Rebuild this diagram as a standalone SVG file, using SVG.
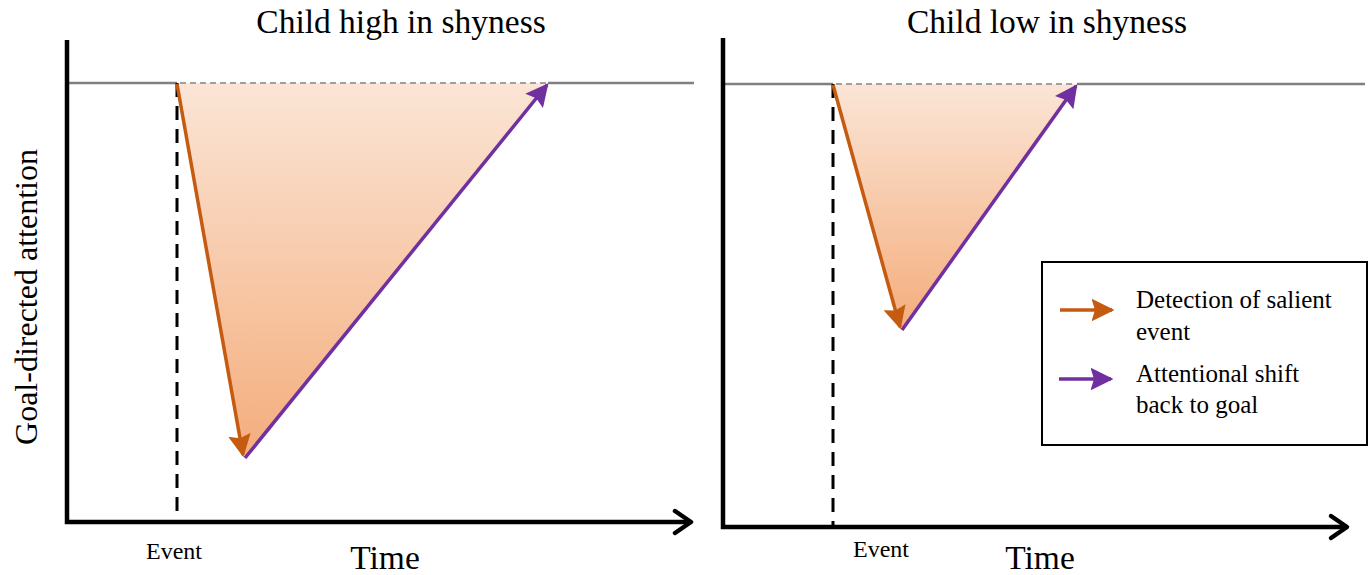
<svg xmlns="http://www.w3.org/2000/svg" width="1369" height="575" viewBox="0 0 1369 575">
<style>
.axis{stroke:#000;stroke-width:4.5;fill:none}
.base{stroke:#808080;stroke-width:2.5}
.gdash{stroke:#a0a0a0;stroke-width:2;stroke-dasharray:6,4}
.bdash{stroke:#000;stroke-width:3;stroke-dasharray:14,9}
.det{stroke:#c55a11;stroke-width:3.5;fill:none}
.att{stroke:#7030a0;stroke-width:3.5;fill:none}
text{font-family:"Liberation Serif","Times New Roman",serif;fill:#000}
.title{font-size:33.5px}
.small{font-size:24px}
.legend{font-size:25px}
</style>
<defs>
<linearGradient id="fade" x1="0" y1="0" x2="0" y2="1">
<stop offset="0" stop-color="#fbe5d6"/>
<stop offset="1" stop-color="#f4ad7c"/>
</linearGradient>
<marker id="hDet" viewBox="0 0 10 10" refX="9" refY="5" markerWidth="6.5" markerHeight="6.5" orient="auto" markerUnits="strokeWidth">
<path d="M0,0 L10,5 L0,10 L1.5,5 z" fill="#c55a11"/>
</marker>
<marker id="hAtt" viewBox="0 0 10 10" refX="9" refY="5" markerWidth="6.5" markerHeight="6.5" orient="auto" markerUnits="strokeWidth">
<path d="M0,0 L10,5 L0,10 L1.5,5 z" fill="#7030a0"/>
</marker>
</defs>

<g id="title-left"><text class="title" x="401" y="33" text-anchor="middle">Child high in shyness</text></g>
<g id="title-right"><text class="title" x="1047" y="33" text-anchor="middle">Child low in shyness</text></g>
<g id="ylabel"><text class="title" transform="translate(37,297) rotate(-90)" text-anchor="middle" style="font-size:32px">Goal-directed attention</text></g>

<g id="panel-left">
<polygon points="177,83 245,458 548,83" fill="url(#fade)"/>
<line class="base" x1="67" y1="83" x2="177" y2="83"/>
<line class="base" x1="548" y1="83" x2="694" y2="83"/>
<line class="gdash" x1="180" y1="83" x2="546" y2="83"/>
<line class="bdash" x1="177" y1="83" x2="177" y2="520"/>
</g>
<g id="panel-right">
<polygon points="833,84 902,330 1077,84" fill="url(#fade)"/>
<line class="base" x1="723" y1="84" x2="833" y2="84"/>
<line class="base" x1="1077" y1="84" x2="1365" y2="84"/>
<line class="gdash" x1="836" y1="84" x2="1075" y2="84"/>
<line class="bdash" x1="833" y1="84" x2="833" y2="525"/>
</g>

<g id="axes">
<polyline class="axis" points="67,40 67,522 690,522"/>
<polyline class="axis" points="675,511 691,522 675,533" stroke-linecap="round" stroke-linejoin="round"/>
<polyline class="axis" points="723,38 723,527 1346,527"/>
<polyline class="axis" points="1331,516 1347,527 1331,538" stroke-linecap="round" stroke-linejoin="round"/>
</g>

<g id="connectors">
<line class="det" x1="177" y1="84" x2="243" y2="455" marker-end="url(#hDet)"/>
<line class="att" x1="245" y1="458" x2="547" y2="85" marker-end="url(#hAtt)"/>
<line class="det" x1="833" y1="85" x2="900" y2="327" marker-end="url(#hDet)"/>
<line class="att" x1="902" y1="330" x2="1076" y2="86" marker-end="url(#hAtt)"/>
</g>

<g id="labels">
<text class="small" x="174" y="559" text-anchor="middle">Event</text>
<text class="title" x="385" y="569" text-anchor="middle">Time</text>
<text class="small" x="881" y="557" text-anchor="middle">Event</text>
<text class="title" x="1040" y="569" text-anchor="middle">Time</text>
</g>

<g id="legend">
<rect x="1042" y="262" width="325" height="183" fill="#fff" stroke="#000" stroke-width="2"/>
<line class="det" x1="1060" y1="310" x2="1112" y2="310" marker-end="url(#hDet)"/>
<line class="att" x1="1059" y1="379" x2="1111" y2="379" marker-end="url(#hAtt)"/>
<text class="legend" x="1136" y="308">Detection of salient</text>
<text class="legend" x="1136" y="340">event</text>
<text class="legend" x="1136" y="382">Attentional shift</text>
<text class="legend" x="1136" y="413">back to goal</text>
</g>
</svg>
